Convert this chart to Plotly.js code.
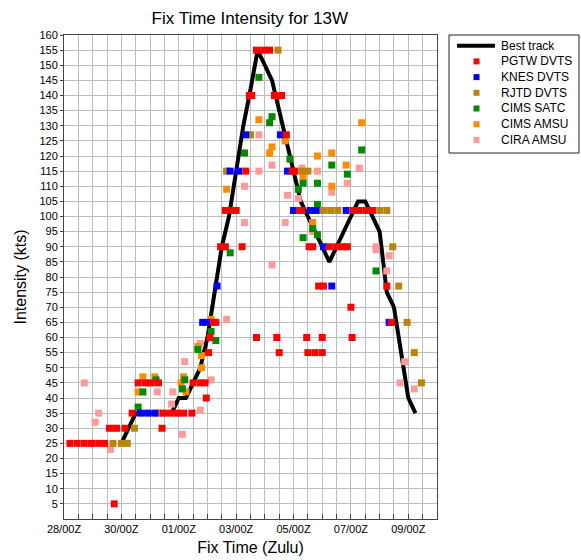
<!DOCTYPE html>
<html>
<head>
<meta charset="utf-8">
<script src="https://cdn.plot.ly/plotly-3.0.1.min.js"></script>
<style>html,body{margin:0;padding:0;background:#fff;}#chart{width:581px;height:560px;}</style>
</head>
<body>
<div id="chart"></div>
<script>
// Times are "MM-DD HH" (UTC, 2015); intensities in kts
const bestTime = ['07-30 00','07-30 06','07-30 12','07-30 18','07-31 00','07-31 06','07-31 12','07-31 18','08-01 00','08-01 06','08-01 12','08-01 18','08-02 00','08-02 06','08-02 12','08-02 18','08-03 00','08-03 06','08-03 12','08-03 18','08-04 00','08-04 06','08-04 12','08-04 18','08-05 00','08-05 06','08-05 12','08-05 18','08-06 00','08-06 06','08-06 12','08-06 18','08-07 00','08-07 06','08-07 12','08-07 18','08-08 00','08-08 06','08-08 12','08-08 18','08-09 00','08-09 06'];
const bestKts = [25,30,35,35,35,35,35,35,40,40,45,50,60,75,90,100,115,130,142,155,150,145,135,125,115,105,100,95,90,85,90,95,100,105,105,100,95,75,70,55,40,35];

const pgtwTime = ['07-28 05','07-28 11','07-28 17','07-28 23','07-29 05','07-29 10','07-29 14','07-29 20','07-30 03','07-29 18','07-30 09','07-31 11','07-31 17','07-31 23','08-01 04','08-01 11','07-30 14','07-30 20','07-31 01','07-31 07','07-31 10','08-01 12','08-01 18','08-01 22','08-01 23','08-02 01','08-02 02','08-02 05','08-02 07','08-02 11','08-02 15','08-03 05','08-02 15','08-02 20','08-03 00','08-03 08','08-03 11','08-03 13','08-03 17','08-03 23','08-04 04','08-04 08','08-04 14','08-04 18','08-04 23','08-05 01','08-05 05','08-05 07','08-05 13','08-05 16','08-05 21','08-06 01','08-06 06','08-06 12','08-06 17','08-06 21','08-07 02','08-07 07','08-07 13','08-07 18','08-03 17','08-04 10','08-05 11','08-06 00','08-07 01','08-04 12','08-05 12','08-05 18','08-06 00','08-07 00','08-08 06','08-08 10'];
const pgtwKts = [25,25,25,25,25,25,30,30,30,5,35,35,35,35,35,35,45,45,45,45,30,45,45,45,40,55,60,65,65,90,90,90,102,102,102,115,140,140,155,155,155,140,140,127,115,115,102,102,90,90,77,77,90,90,90,90,102,102,102,102,60,60,60,60,60,55,55,55,55,70,77,65];

const knesTime = ['07-30 16','07-30 22','07-31 04','08-01 20','08-02 00','08-02 08','08-02 19','08-03 02','08-03 08','08-04 13','08-04 19','08-05 00','08-05 14','08-05 19','08-06 20','08-06 01','08-06 08','08-08 08'];
const knesKts = [35,35,35,65,65,77,115,115,127,127,115,102,102,102,102,90,77,65];

const rjtdTime = ['07-29 17','07-30 00','07-30 05','07-30 11','07-31 07','08-02 16','08-03 12','08-04 11','08-05 07','08-05 12','08-06 01','08-06 07','08-06 13','08-08 00','08-08 06','08-08 11','08-08 16','08-08 23','08-09 05','08-09 11'];
const rjtdKts = [25,25,25,30,35,115,127,155,115,115,102,102,102,102,102,90,77,65,55,45];

const satcTime = ['07-30 14','07-30 18','07-31 05','08-01 03','08-01 05','08-01 16','08-02 03','08-02 07','08-02 19','08-03 07','08-03 19','08-04 06','08-04 04','08-04 21','08-05 04','08-05 08','08-05 08','08-05 16','08-05 20','08-05 20','08-05 20','08-06 08','08-06 21','08-07 09','08-07 21'];
const satcKts = [37,42,46,43,46,56,62,59,88,121,146,133,131,119,109,111,93,96,111,104,94,117,114,122,82];

const amsuTime = ['07-30 14','07-30 18','07-31 04','08-01 04','08-01 02','08-01 06','08-01 16','08-01 19','08-01 19','08-02 03','08-02 16','08-03 19','08-04 17','08-04 06','08-04 04','08-05 08','08-05 16','08-05 20','08-06 08','08-06 08','08-06 20','08-07 09'];
const amsuKts = [42,47,47,47,45,42,57,54,50,66,109,132,125,123,121,113,98,120,121,110,117,131];

const ciraTime = ['07-28 17','07-29 02','07-29 05','07-29 15','07-29 17','07-31 06','07-31 18','07-31 19','08-01 03','08-01 05','08-01 18','08-01 18','08-02 03','08-02 16','08-03 07','08-03 07','08-03 19','08-03 19','08-04 06','08-04 06','08-04 19','08-04 17','08-05 04','08-05 07','08-05 20','08-05 16','08-06 08','08-06 21','08-07 07','08-07 21','08-07 21','08-08 08','08-08 06','08-08 21','08-08 17','08-09 05'];
const ciraKts = [45,32,35,23,30,42,38,42,28,52,36,58,46,66,98,110,115,127,117,84,107,98,106,116,115,95,108,111,116,90,89,87,82,52,45,43];

const xTickVals = ['07-28 00','07-30 00','08-01 00','08-03 00','08-05 00','08-07 00','08-09 00'];
const xTickText = ['28/00Z','30/00Z','01/00Z','03/00Z','05/00Z','07/00Z','09/00Z'];
const yTickVals = [5,10,15,20,25,30,35,40,45,50,55,60,65,70,75,80,85,90,95,100,105,110,115,120,125,130,135,140,145,150,155,160];

// legend entries (drawn in legend order)
const legendNames = ['Best track','PGTW DVTS','KNES DVTS','RJTD DVTS','CIMS SATC','CIMS AMSU','CIRA AMSU'];
const legendColors = ['#000000','#ff0000','#0000ff','#b8860b','#008a00','#ff8c00','#ff9a9a'];

const T = s => '2015-' + s + ':00';
const toDates = arr => arr.map(T);

const FONT = 'Liberation Sans, Arial, Helvetica, sans-serif';

function markerTrace(name, times, kts, color) {
  return {
    type: 'scatter', mode: 'markers', name: name,
    x: toDates(times), y: kts,
    marker: {symbol: 'square', size: 7, color: color, line: {width: 0}},
    cliponaxis: true, showlegend: false
  };
}

const traces = [
  {type: 'scatter', mode: 'lines', name: 'Best track', x: toDates(bestTime), y: bestKts,
   line: {color: '#000000', width: 4}, showlegend: false},
  markerTrace('CIRA AMSU', ciraTime, ciraKts, legendColors[6]),
  markerTrace('CIMS AMSU', amsuTime, amsuKts, legendColors[5]),
  markerTrace('CIMS SATC', satcTime, satcKts, legendColors[4]),
  markerTrace('RJTD DVTS', rjtdTime, rjtdKts, legendColors[3]),
  markerTrace('KNES DVTS', knesTime, knesKts, legendColors[2]),
  markerTrace('PGTW DVTS', pgtwTime, pgtwKts, legendColors[1])
];

// ---- custom legend box (layout decoration, in paper coordinates) ----
const M = {l: 64, r: 144, t: 35, b: 41};
const PW = 581 - M.l - M.r, PH = 560 - M.t - M.b;
const px = v => (v - M.l) / PW;           // page x pixel -> paper x
const py = v => (560 - M.b - v) / PH;     // page y pixel -> paper y

const shapes = [{type: 'rect', xref: 'paper', yref: 'paper', x0: px(449), x1: px(579), y0: py(153), y1: py(35),
                 line: {color: '#222', width: 1}, fillcolor: 'rgba(0,0,0,0)', layer: 'above'}];
const annotations = [];
legendNames.forEach((name, i) => {
  const yy = 45.7 + 15.7 * i;
  if (i === 0) {
    shapes.push({type: 'line', xref: 'paper', yref: 'paper', x0: px(457), x1: px(495), y0: py(yy), y1: py(yy),
                 line: {color: legendColors[i], width: 4}});
  } else {
    shapes.push({type: 'rect', xref: 'paper', yref: 'paper', x0: px(473.5), x1: px(479.5), y0: py(yy + 3), y1: py(yy - 3),
                 line: {width: 0}, fillcolor: legendColors[i]});
  }
  annotations.push({xref: 'paper', yref: 'paper', x: px(499), y: py(yy), xanchor: 'left', yanchor: 'middle',
                    text: name, showarrow: false, font: {family: FONT, size: 12, color: '#000'}});
});

const layout = {
  width: 581, height: 560,
  margin: {l: M.l, r: M.r, t: M.t, b: M.b, pad: 0},
  paper_bgcolor: '#ffffff', plot_bgcolor: '#ffffff',
  font: {family: FONT, color: '#000000', size: 11},
  showlegend: false,
  title: {text: 'Fix Time Intensity for 13W', font: {family: FONT, size: 17, color: '#000'},
          x: 0.43, xanchor: 'center', xref: 'container', y: 0.968, yanchor: 'middle', yref: 'container'},
  xaxis: {
    type: 'date',
    range: [T('07-28 00'), T('08-10 00')],
    tickmode: 'array', tickvals: toDates(xTickVals), ticktext: xTickText,
    showgrid: true, gridcolor: '#bdbdbd', gridwidth: 1,
    ticks: 'inside', ticklen: 5, tickcolor: '#444',
    minor: {tick0: T('07-28 00'), dtick: 43200000, showgrid: true, gridcolor: '#bdbdbd', gridwidth: 1,
            ticks: 'inside', ticklen: 5, tickcolor: '#444'},
    showline: true, linecolor: '#444', linewidth: 1, mirror: true,
    zeroline: false,
    tickfont: {family: FONT, size: 11, color: '#000'},
    title: {text: 'Fix Time (Zulu)', font: {family: FONT, size: 16, color: '#000'}, standoff: 7},
    fixedrange: true
  },
  yaxis: {
    range: [0, 160],
    tickmode: 'array', tickvals: yTickVals,
    showgrid: true, gridcolor: '#bdbdbd', gridwidth: 1,
    ticks: 'outside', ticklen: 3, tickcolor: '#444',
    showline: true, linecolor: '#444', linewidth: 1, mirror: true,
    zeroline: false,
    tickfont: {family: FONT, size: 11, color: '#000'},
    title: {text: 'Intensity (kts)', font: {family: FONT, size: 16, color: '#000'}, standoff: 8},
    fixedrange: true
  },
  shapes: shapes,
  annotations: annotations
};

Plotly.newPlot('chart', traces, layout, {displayModeBar: false, staticPlot: true});
</script>
</body>
</html>
